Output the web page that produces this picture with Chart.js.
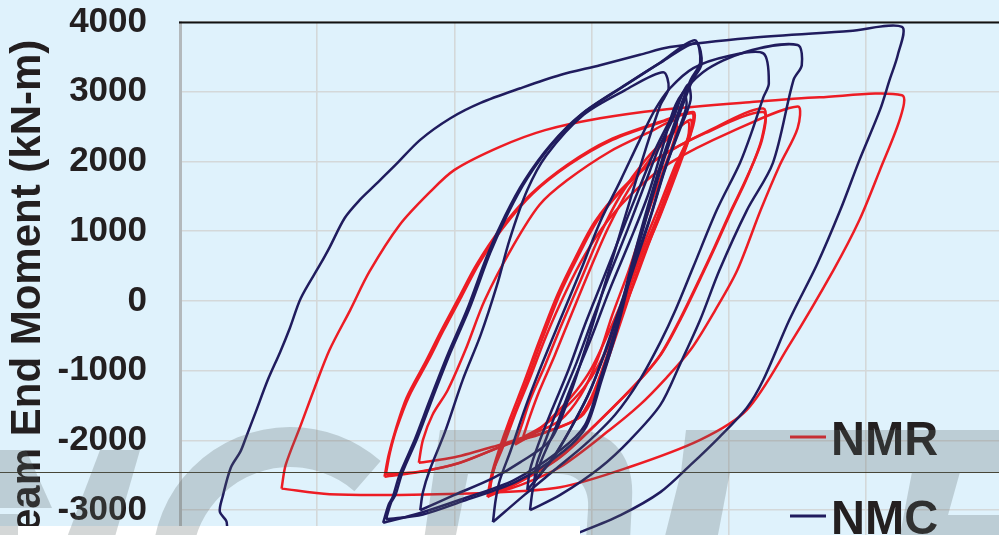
<!DOCTYPE html>
<html>
<head>
<meta charset="utf-8">
<script src="https://cdn.jsdelivr.net/npm/chart.js@4.4.0/dist/chart.umd.min.js"></script>
<style>
  html, body { margin: 0; padding: 0; background: #dff2fc; overflow: hidden; }
  #wrap { width: 999px; height: 535px; overflow: hidden; }
  canvas { display: block; }
</style>
</head>
<body>
<div id="wrap"><canvas id="c" width="999" height="580"></canvas></div>
<script>
// Beam end moment (kN-m) vs rotation (%), hysteresis loops.
// Each loop is a list of [rotation, moment] pairs.

const yTicks = [-4000, -3000, -2000, -1000, 0, 1000, 2000, 3000, 4000];

// --- NMR (red) ---
const nmrLoopA1 = [[-1.51,-2520],[-1.48,-2210],[-1.43,-1850],[-1.35,-1390],[-1.21,-870],[-1.10,-440],[-0.97,40],[-0.84,520],[-0.67,1020],[-0.45,1520],[-0.18,1950],[0.13,2310],[0.50,2570],[0.74,2710],
  [0.74,2520],[0.64,1950],[0.50,1230],[0.35,520],[0.24,-130],[0.13,-770],[0.02,-1350],[-0.08,-1660],[-0.34,-1880],[-0.59,-2030],[-0.96,-2320],[-1.25,-2450],[-1.51,-2520]];
const nmrLoopA1b = [[-1.50,-2480],[-1.47,-2170],[-1.42,-1820],[-1.33,-1360],[-1.19,-850],[-1.08,-420],[-0.95,60],[-0.82,540],[-0.65,1040],[-0.43,1540],[-0.16,1960],[0.15,2310],[0.50,2560],[0.73,2690],
  [0.73,2500],[0.62,1930],[0.48,1210],[0.33,500],[0.22,-150],[0.11,-790],[0.00,-1370],[-0.10,-1680],[-0.36,-1900],[-0.61,-2050],[-0.98,-2330],[-1.27,-2450],[-1.50,-2480]];
const nmrLoopA2 = [[-1.26,-2320],[-1.23,-1990],[-1.16,-1630],[-1.05,-1280],[-0.92,-700],[-0.78,10],[-0.57,800],[-0.38,1380],[-0.18,1730],[0.13,2140],[0.42,2420],[0.61,2590],
  [0.61,2380],[0.51,1810],[0.39,1160],[0.27,440],[0.15,-200],[0.04,-850],[-0.08,-1350],[-0.23,-1710],[-0.45,-1920],[-0.72,-2090],[-1.00,-2240],[-1.26,-2320]];
const nmrLoopS1 = [[-0.56,-2060],[-0.51,-1780],[-0.45,-1420],[-0.34,-920],[-0.22,-340],[-0.08,300],[0.06,950],[0.21,1520],[0.39,2020],[0.57,2380],[0.70,2570],
  [0.70,2340],[0.61,1950],[0.50,1400],[0.39,870],[0.27,230],[0.13,-420],[0.00,-960],[-0.11,-1280],[-0.27,-1630],[-0.41,-1880],[-0.56,-2060]];
const nmrLoopS2 = [[-0.50,-1950],[-0.45,-1650],[-0.38,-1280],[-0.27,-780],[-0.15,-200],[-0.02,420],[0.12,1050],[0.27,1600],[0.44,2080],[0.60,2420],[0.72,2600],
  [0.72,2400],[0.64,2000],[0.54,1450],[0.43,900],[0.31,260],[0.18,-380],[0.05,-920],[-0.06,-1250],[-0.22,-1580],[-0.36,-1800],[-0.50,-1950]];
const nmrLoopB1 = [[-0.76,-2810],[-0.73,-2490],[-0.68,-2160],[-0.60,-1710],[-0.50,-1200],[-0.38,-560],[-0.25,90],[-0.12,620],[0.02,1130],[0.21,1590],[0.46,2020],[0.83,2410],[1.25,2710],
  [1.24,2310],[1.12,1730],[1.01,1280],[0.90,800],[0.81,420],[0.64,-270],[0.50,-770],[0.35,-1130],[0.06,-1710],[-0.23,-2240],[-0.52,-2590],[-0.76,-2810]];
const nmrLoopB1b = [[-0.75,-2790],[-0.72,-2470],[-0.67,-2140],[-0.58,-1690],[-0.48,-1180],[-0.36,-540],[-0.23,110],[-0.10,640],[0.04,1150],[0.23,1610],[0.48,2040],[0.85,2440],[1.25,2760],
  [1.24,2340],[1.13,1760],[1.02,1300],[0.91,820],[0.82,440],[0.65,-250],[0.51,-750],[0.36,-1110],[0.07,-1690],[-0.22,-2220],[-0.51,-2570],[-0.75,-2790]];
const nmrLoopB2 = [[-0.75,-2780],[-0.72,-2450],[-0.65,-2110],[-0.56,-1630],[-0.45,-1100],[-0.33,-490],[-0.19,130],[-0.05,660],[0.12,1160],[0.32,1590],[0.57,1980],[1.01,2420],[1.50,2790],
  [1.50,2480],[1.37,1950],[1.23,1300],[1.06,440],[0.90,-130],[0.72,-700],[0.53,-1130],[0.35,-1490],[0.13,-1850],[-0.23,-2380],[-0.52,-2640],[-0.75,-2780]];
const nmrLoopBig = [[-2.26,-2690],[-2.23,-2350],[-2.12,-1780],[-2.02,-1250],[-1.91,-700],[-1.76,-130],[-1.62,420],[-1.40,1090],[-1.18,1560],[-1.00,1880],[-0.67,2210],[-0.34,2450],[0.06,2620],[0.50,2740],[1.15,2850],[1.66,2920],[2.26,2950],
  [2.25,2640],[2.10,1880],[1.95,1160],[1.76,440],[1.44,-630],[1.13,-1560],[0.79,-1990],[0.26,-2390],[-0.23,-2670],[-0.76,-2750],[-1.40,-2780],[-1.91,-2770],[-2.26,-2690]];

// --- NMC (navy) ---
const nmcLoopA1 = [[-1.52,-3180],[-1.48,-2920],[-1.45,-2810],[-1.40,-2490],[-1.29,-1990],[-1.18,-1420],[-1.05,-770],[-0.91,-130],[-0.76,660],[-0.63,1230],[-0.49,1730],[-0.30,2240],[-0.08,2670],[0.21,3050],[0.50,3420],[0.75,3740],
  [0.79,3420],[0.72,3170],[0.61,2590],[0.50,1950],[0.39,1230],[0.28,440],[0.17,-420],[0.06,-1130],[-0.05,-1780],[-0.23,-2140],[-0.57,-2570],[-0.96,-2850],[-1.25,-3040],[-1.52,-3180]];
const nmcLoopA1b = [[-1.50,-3130],[-1.46,-2880],[-1.43,-2780],[-1.38,-2460],[-1.27,-1960],[-1.16,-1390],[-1.03,-740],[-0.89,-100],[-0.74,690],[-0.61,1260],[-0.47,1760],[-0.28,2270],[-0.06,2700],[0.23,3080],[0.52,3440],[0.76,3700],
  [0.80,3400],[0.73,3150],[0.62,2570],[0.51,1930],[0.40,1210],[0.29,420],[0.18,-440],[0.07,-1150],[-0.04,-1800],[-0.21,-2160],[-0.55,-2590],[-0.94,-2870],[-1.23,-3060],[-1.50,-3130]];
const nmcLoopA2 = [[-1.25,-3000],[-1.23,-2740],[-1.18,-2420],[-1.07,-1880],[-0.94,-1130],[-0.81,-490],[-0.69,230],[-0.60,870],[-0.47,1590],[-0.33,2090],[-0.06,2670],[0.24,3020],[0.52,3280],
  [0.56,3050],[0.50,2810],[0.39,2160],[0.28,1450],[0.17,730],[0.06,10],[-0.05,-700],[-0.16,-1350],[-0.30,-1990],[-0.52,-2310],[-0.72,-2540],[-1.00,-2780],[-1.25,-3000]];
const nmcLoopS1 = [[-0.47,-2710],[-0.45,-2420],[-0.39,-2060],[-0.29,-1560],[-0.17,-990],[-0.05,-340],[0.08,300],[0.21,950],[0.34,1590],[0.46,2160],[0.59,2670],[0.70,3100],
  [0.72,2880],[0.64,2450],[0.53,1880],[0.43,1230],[0.32,590],[0.21,-60],[0.10,-700],[-0.01,-1280],[-0.14,-1780],[-0.27,-2210],[-0.38,-2490],[-0.47,-2710]];
const nmcLoopS2 = [[-0.42,-2600],[-0.40,-2330],[-0.33,-1960],[-0.23,-1450],[-0.11,-880],[0.01,-240],[0.13,380],[0.26,1020],[0.38,1640],[0.49,2200],[0.60,2650],[0.67,3000],
  [0.69,2800],[0.62,2380],[0.52,1800],[0.42,1150],[0.31,500],[0.20,-150],[0.09,-780],[-0.03,-1360],[-0.16,-1850],[-0.28,-2250],[-0.36,-2450],[-0.42,-2600]];
const nmcLoopB1 = [[-0.72,-3170],[-0.70,-2850],[-0.67,-2570],[-0.59,-2140],[-0.49,-1560],[-0.38,-990],[-0.23,-270],[-0.08,440],[0.06,1130],[0.21,1730],[0.35,2310],[0.46,2740],[0.57,3050],[0.74,3340],[0.99,3510],[1.25,3550],
  [1.29,3120],[1.25,2920],[1.17,2450],[1.08,1980],[0.91,1300],[0.74,490],[0.61,-130],[0.50,-590],[0.35,-1130],[0.17,-1630],[-0.05,-2060],[-0.27,-2420],[-0.49,-2780],[-0.72,-3170]];
const nmcLoopB2 = [[-0.45,-3000],[-0.43,-2710],[-0.38,-2350],[-0.27,-1850],[-0.16,-1280],[-0.01,-560],[0.13,160],[0.28,870],[0.41,1520],[0.51,2160],[0.62,2850],[0.81,3280],[1.12,3570],[1.50,3670],
  [1.53,3380],[1.47,3170],[1.32,1980],[1.13,1300],[0.93,440],[0.79,-270],[0.64,-920],[0.50,-1490],[0.28,-1990],[0.06,-2390],[-0.23,-2780],[-0.45,-3000]];
const nmcLoopBig = [[-2.66,-3570],[-2.66,-3170],[-2.71,-3020],[-2.69,-2810],[-2.63,-2390],[-2.56,-2160],[-2.52,-1960],[-2.45,-1600],[-2.36,-1130],[-2.27,-730],[-2.20,-390],[-2.12,40],[-1.98,520],[-1.91,770],[-1.80,1190],[-1.69,1450],[-1.58,1660],[-1.43,1950],[-1.25,2310],[-1.03,2620],[-0.81,2840],[-0.52,3050],[-0.23,3240],[0.06,3380],[0.35,3530],[0.57,3640],[1.15,3770],[1.88,3870],[2.26,3930],
  [2.23,3530],[2.17,3170],[2.10,2740],[1.95,2020],[1.81,1300],[1.64,520],[1.44,-270],[1.25,-1130],[1.13,-1530],[0.93,-1950],[0.72,-2350],[0.50,-2740],[0.21,-3070],[-0.08,-3310],[-0.38,-3530],[-0.81,-3670],[-1.40,-3740],[-2.12,-3710],[-2.56,-3650],[-2.66,-3570]];

const nmrLoops = [nmrLoopBig, nmrLoopA1, nmrLoopA1b, nmrLoopA2, nmrLoopS1, nmrLoopS2, nmrLoopB1, nmrLoopB1b, nmrLoopB2];
const nmcLoops = [nmcLoopBig, nmcLoopA1, nmcLoopA1b, nmcLoopA2, nmcLoopS1, nmcLoopS2, nmcLoopB1, nmcLoopB2];

const RED = '#ed1c24';
const NAVY = '#201c5e';
const INK = '#231f20';
const FONT = '"Liberation Sans", Arial, Helvetica, sans-serif';

function loopSet(arr, colour) {
  return {
    data: arr.map(([x, y]) => ({ x, y })),
    borderColor: colour,
    backgroundColor: colour,
    borderWidth: 2.5,
    borderJoinStyle: 'round',
    showLine: true,
    pointRadius: 0,
    tension: 0.3,
    fill: false,
  };
}

// dataset 0 is drawn last, so navy goes first to sit on top
const datasets = [
  ...nmcLoops.map(l => loopSet(l, NAVY)),
  ...nmrLoops.map(l => loopSet(l, RED)),
];

const backdrop = {
  id: 'backdrop',
  beforeDraw(chart) {
    const { ctx, width, height } = chart;
    ctx.save();
    ctx.fillStyle = '#dff2fc';
    ctx.fillRect(0, 0, width, height);
    ctx.restore();
  },
  afterDraw(chart) {
    const { ctx, chartArea: a } = chart;
    ctx.save();
    // top frame line
    ctx.strokeStyle = '#111';
    ctx.lineWidth = 2;
    ctx.beginPath(); ctx.moveTo(a.left - 1, a.top + 0.5); ctx.lineTo(a.right, a.top + 0.5); ctx.stroke();
    // thin stray rule across the picture
    ctx.strokeStyle = 'rgba(45,40,20,0.85)';
    ctx.lineWidth = 1;
    ctx.beginPath(); ctx.moveTo(0, 472.5); ctx.lineTo(999, 472.5); ctx.stroke();
    // white strip at the bottom left
    ctx.fillStyle = '#fff';
    ctx.fillRect(0, 526, 580, 20);

    // legend
    const items = [['NMR', RED, 437, 455], ['NMC', NAVY, 516, 534]];
    for (const [txt, col, ly, by] of items) {
      ctx.strokeStyle = col;
      ctx.lineWidth = 3;
      ctx.beginPath(); ctx.moveTo(790, ly); ctx.lineTo(826, ly); ctx.stroke();
      ctx.save();
      ctx.translate(831, by);
      ctx.scale(0.96, 1);
      ctx.fillStyle = INK;
      ctx.font = 'bold 49px ' + FONT;
      ctx.textBaseline = 'alphabetic';
      ctx.fillText(txt, 0, 0);
      ctx.restore();
    }

    // faint grey watermark lettering over everything
    ctx.fillStyle = 'rgba(89,101,102,0.26)';
    const poly = (pts) => {
      ctx.beginPath();
      pts.forEach(([x, y], i) => (i ? ctx.lineTo(x, y) : ctx.moveTo(x, y)));
      ctx.closePath();
      ctx.fill();
    };
    poly([[0, 450], [26, 450], [52, 508], [0, 508]]);
    poly([[0, 514], [18, 514], [18, 535], [0, 535]]);
    poly([[100, 450], [140, 450], [114, 540], [66, 540]]);
    // C
    ctx.beginPath();
    ctx.arc(290, 565, 138, Math.PI, 5.43, false);
    ctx.arc(290, 565, 98, 5.43, Math.PI, true);
    ctx.closePath();
    ctx.fill();
    // D
    ctx.beginPath();
    ctx.moveTo(440, 430); ctx.lineTo(575, 430);
    ctx.bezierCurveTo(615, 430, 635, 460, 632, 500);
    ctx.lineTo(630, 540); ctx.lineTo(424, 540); ctx.closePath();
    ctx.moveTo(468, 474); ctx.lineTo(560, 474);
    ctx.bezierCurveTo(580, 474, 590, 490, 588, 510);
    ctx.lineTo(586, 540); ctx.lineTo(455, 540); ctx.closePath();
    ctx.fill('evenodd');
    // right-hand letters
    poly([[686, 430], [999, 430], [999, 472], [681, 472]]);
    poly([[681, 472], [730, 472], [717, 540], [664, 540]]);
    poly([[912, 472], [960, 472], [948, 515], [999, 515], [999, 540], [899, 540]]);
    ctx.restore();
  },
};

new Chart(document.getElementById('c'), {
  type: 'scatter',
  data: { datasets },
  options: {
    responsive: false,
    animation: false,
    events: [],
    layout: { padding: { top: 22, left: 0, right: 0, bottom: 0 } },
    plugins: { legend: { display: false }, tooltip: { enabled: false } },
    scales: {
      x: {
        type: 'linear',
        min: -3,
        max: 2.967,
        ticks: { display: false, stepSize: 1, includeBounds: false },
        grid: { color: '#d4d8d9', lineWidth: 1.6, drawTicks: false },
        border: { display: false },
        afterFit(s) { s.height = 0; s.paddingLeft = 0; s.paddingRight = 0; },
      },
      y: {
        min: yTicks[0],
        max: yTicks[yTicks.length - 1],
        afterBuildTicks(s) { s.ticks = yTicks.map(v => ({ value: v })); },
        ticks: {
          padding: 33,
          color: INK,
          font: { family: FONT, weight: 'bold', size: 35 },
          callback: (v) => String(v),
        },
        grid: { color: '#d4d8d9', lineWidth: 1.6, drawTicks: false },
        border: { color: '#b3b9bc', width: 3 },
        title: {
          display: true,
          text: 'Beam End Moment (kN-m)',
          color: INK,
          font: { family: FONT, weight: 'bold', size: 42 },
          padding: { top: 3, bottom: 0 },
        },
        afterFit(s) { s.width = 180; s.paddingTop = 0; s.paddingBottom = 0; },
      },
    },
  },
  plugins: [backdrop],
});
</script>
</body>
</html>
